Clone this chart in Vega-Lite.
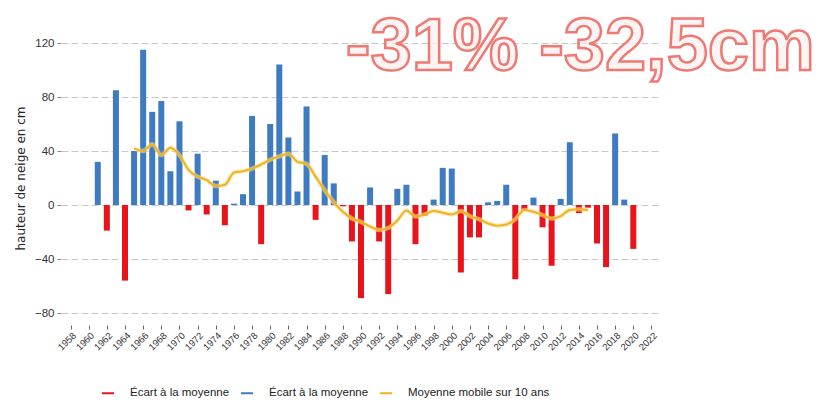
{
  "$schema": "https://vega.github.io/schema/vega-lite/v6.json",
  "autosize": "none",
  "width": 600,
  "height": 270,
  "padding": {"left": 61, "top": 43, "right": 160, "bottom": 92},
  "background": "white",
  "config": {
    "view": {"stroke": null},
    "font": "Liberation Sans"
  },
  "data": {
    "values": [
      {"annee": 1961, "ecart": 32, "mm": null},
      {"annee": 1962, "ecart": -19, "mm": null},
      {"annee": 1963, "ecart": 85, "mm": null},
      {"annee": 1964, "ecart": -56, "mm": null},
      {"annee": 1965, "ecart": 40, "mm": 42},
      {"annee": 1966, "ecart": 115, "mm": 40},
      {"annee": 1967, "ecart": 69, "mm": 45},
      {"annee": 1968, "ecart": 77, "mm": 37},
      {"annee": 1969, "ecart": 25, "mm": 42.5},
      {"annee": 1970, "ecart": 62, "mm": 37},
      {"annee": 1971, "ecart": -4, "mm": 26},
      {"annee": 1972, "ecart": 38, "mm": 21},
      {"annee": 1973, "ecart": -7, "mm": 18.5},
      {"annee": 1974, "ecart": 18, "mm": 14},
      {"annee": 1975, "ecart": -15, "mm": 15},
      {"annee": 1976, "ecart": 1, "mm": 24},
      {"annee": 1977, "ecart": 8, "mm": 25},
      {"annee": 1978, "ecart": 66, "mm": 27},
      {"annee": 1979, "ecart": -29, "mm": 30},
      {"annee": 1980, "ecart": 60, "mm": 33.5},
      {"annee": 1981, "ecart": 104, "mm": 36},
      {"annee": 1982, "ecart": 50, "mm": 38},
      {"annee": 1983, "ecart": 10, "mm": 32},
      {"annee": 1984, "ecart": 73, "mm": 30.5},
      {"annee": 1985, "ecart": -11, "mm": 21},
      {"annee": 1986, "ecart": 37, "mm": 11},
      {"annee": 1987, "ecart": 16, "mm": 2},
      {"annee": 1988, "ecart": -1, "mm": -5},
      {"annee": 1989, "ecart": -27, "mm": -10},
      {"annee": 1990, "ecart": -69, "mm": -12.5},
      {"annee": 1991, "ecart": 13, "mm": -16},
      {"annee": 1992, "ecart": -27, "mm": -18.5},
      {"annee": 1993, "ecart": -66, "mm": -17},
      {"annee": 1994, "ecart": 12, "mm": -11.5},
      {"annee": 1995, "ecart": 15, "mm": -4},
      {"annee": 1996, "ecart": -29, "mm": -8.6},
      {"annee": 1997, "ecart": -8, "mm": -7},
      {"annee": 1998, "ecart": 4, "mm": -4.5},
      {"annee": 1999, "ecart": 27.5, "mm": -5.7},
      {"annee": 2000, "ecart": 27, "mm": -7},
      {"annee": 2001, "ecart": -50, "mm": -4.5},
      {"annee": 2002, "ecart": -24, "mm": -8.3},
      {"annee": 2003, "ecart": -24, "mm": -10.5},
      {"annee": 2004, "ecart": 2, "mm": -13.6},
      {"annee": 2005, "ecart": 3, "mm": -15.3},
      {"annee": 2006, "ecart": 15, "mm": -14.5},
      {"annee": 2007, "ecart": -55, "mm": -10.5},
      {"annee": 2008, "ecart": -4, "mm": -3.7},
      {"annee": 2009, "ecart": 5.5, "mm": -5},
      {"annee": 2010, "ecart": -16.5, "mm": -7.4},
      {"annee": 2011, "ecart": -45, "mm": -10},
      {"annee": 2012, "ecart": 4.5, "mm": -8.3},
      {"annee": 2013, "ecart": 46.5, "mm": -3.7},
      {"annee": 2014, "ecart": -6, "mm": -3.2},
      {"annee": 2015, "ecart": -2, "mm": -3.7},
      {"annee": 2016, "ecart": -28.5, "mm": null},
      {"annee": 2017, "ecart": -46, "mm": null},
      {"annee": 2018, "ecart": 53, "mm": null},
      {"annee": 2019, "ecart": 4, "mm": null},
      {"annee": 2020, "ecart": -32.5, "mm": null}
    ]
  },
  "layer": [
    {
      "transform": [{"calculate": "datum.ecart < 0 ? 'neg' : 'pos'", "as": "signe"}],
      "mark": {"type": "bar", "width": 6},
      "encoding": {
        "x": {
          "field": "annee",
          "type": "quantitative",
          "scale": {"domain": [1957.5, 2022.5], "nice": false, "zero": false},
          "axis": {
            "title": null,
            "values": [1958, 1960, 1962, 1964, 1966, 1968, 1970, 1972, 1974, 1976, 1978, 1980, 1982, 1984, 1986, 1988, 1990, 1992, 1994, 1996, 1998, 2000, 2002, 2004, 2006, 2008, 2010, 2012, 2014, 2016, 2018, 2020, 2022],
            "tickCount": 40,
            "format": "d",
            "labelAngle": -45,
            "labelFontSize": 9.5,
            "labelColor": "#333",
            "labelFlush": false,
            "labelOverlap": false,
            "labelBound": false,
            "labelPadding": 1,
            "offset": 12,
            "tickSize": 4,
            "tickColor": "#666",
            "domain": false,
            "grid": false
          }
        },
        "y": {
          "field": "ecart",
          "type": "quantitative",
          "scale": {"domain": [-80, 120], "nice": false},
          "axis": {
            "title": "hauteur de neige en cm",
            "titleFont": "DejaVu Sans",
            "titleFontSize": 12,
            "titleFontWeight": "normal",
            "titleColor": "#222",
            "titlePadding": 7,
            "values": [-80, -60, -40, -20, 0, 20, 40, 60, 80, 100, 120],
            "labelFontSize": 11.5,
            "labelColor": "#333",
            "labelPadding": 3,
            "tickSize": 4,
            "tickColor": "#888",
            "domain": false,
            "grid": true,
            "gridColor": "#c8c8c8",
            "gridDash": [7, 3],
            "gridWidth": 1
          }
        },
        "color": {
          "field": "signe",
          "type": "nominal",
          "scale": {"domain": ["neg", "pos", "mm"], "range": ["#E8131B", "#3E7BC0", "#EFB320"]},
          "legend": {
            "title": null,
            "orient": "none",
            "legendX": 40,
            "legendY": 343,
            "direction": "horizontal",
            "columns": 3,
            "columnPadding": 7,
            "padding": 0,
            "symbolType": "stroke",
            "symbolSize": 144,
            "symbolStrokeWidth": 2,
            "labelOffset": 15,
            "labelFontSize": 11.5,
            "labelColor": "#222",
            "labelExpr": "datum.value == 'mm' ? 'Moyenne mobile sur 10 ans' : 'Écart à la moyenne'",
            "encode": {
              "symbols": {
                "update": {
                  "stroke": {"scale": "color", "field": "value"},
                  "strokeWidth": {"value": 2}
                }
              }
            }
          }
        }
      }
    },
    {
      "mark": {"type": "line", "strokeWidth": 4.5, "interpolate": "monotone", "color": "#F7DC8E", "opacity": 0.6},
      "encoding": {
        "x": {"field": "annee", "type": "quantitative"},
        "y": {"field": "mm", "type": "quantitative"}
      }
    },
    {
      "mark": {"type": "line", "strokeWidth": 2, "interpolate": "monotone"},
      "encoding": {
        "x": {"field": "annee", "type": "quantitative"},
        "y": {"field": "mm", "type": "quantitative"},
        "color": {"datum": "mm"}
      }
    },
    {
      "data": {"values": [{"t": "-31% -32,5cm"}]},
      "mark": {
        "type": "text",
        "align": "left",
        "baseline": "alphabetic",
        "font": "Liberation Sans",
        "fontWeight": "bold",
        "fontSize": 74,
        "fill": "#FFF0F0",
        "fillOpacity": 0.75,
        "stroke": "#EE7A73",
        "strokeWidth": 2.5,
        "dx": 3
      },
      "encoding": {
        "text": {"field": "t"},
        "x": {"datum": 1988},
        "y": {"datum": 100}
      }
    }
  ]
}
